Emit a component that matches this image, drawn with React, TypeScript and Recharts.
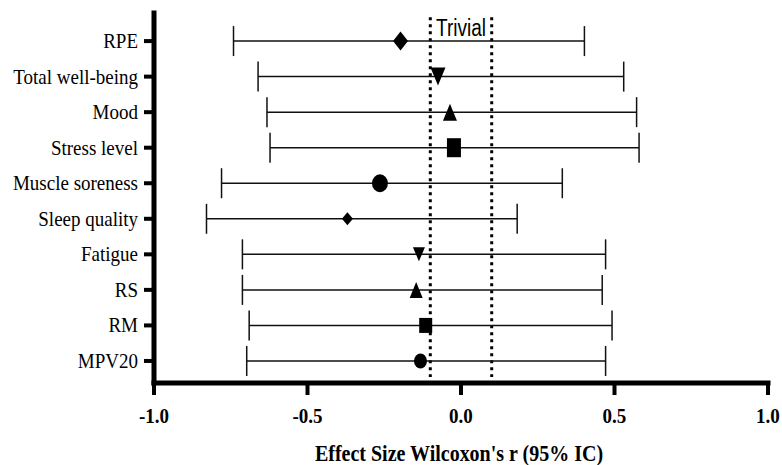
import { ComposedChart, Scatter, XAxis, YAxis, ErrorBar, ReferenceLine, ReferenceArea } from "recharts";

// forest plot: effect size r with 95% CI per variable
const categories = [
  "RPE",
  "Total well-being",
  "Mood",
  "Stress level",
  "Muscle soreness",
  "Sleep quality",
  "Fatigue",
  "RS",
  "RM",
  "MPV20",
];
const effect = [-0.197, -0.075, -0.036, -0.023, -0.264, -0.37, -0.137, -0.146, -0.115, -0.132];
const lower = [-0.741, -0.661, -0.632, -0.622, -0.78, -0.829, -0.712, -0.712, -0.69, -0.698];
const upper = [0.402, 0.53, 0.572, 0.58, 0.33, 0.183, 0.471, 0.46, 0.492, 0.471];
const xTicks = [-1, -0.5, 0, 0.5, 1];
const rowTicks = [1, 2, 3, 4, 5, 6, 7, 8, 9, 10];
const trivialBounds = [-0.1, 0.1];

const data = categories.map((name, i) => ({
  name,
  row: i + 1,
  r: effect[i],
  ci: [effect[i] - lower[i], upper[i] - effect[i]],
}));

// marker look per row (shape, width, height in px)
const MARKERS = [
  { kind: "diamond", w: 15, h: 19 },
  { kind: "triDown", w: 15, h: 18 },
  { kind: "triUp", w: 14, h: 17 },
  { kind: "square", w: 14, h: 19 },
  { kind: "circle", w: 16, h: 18 },
  { kind: "diamond", w: 11, h: 13 },
  { kind: "triDown", w: 12, h: 14 },
  { kind: "triUp", w: 13, h: 16 },
  { kind: "square", w: 13, h: 15 },
  { kind: "circle", w: 13, h: 15 },
];

const SERIF = '"Liberation Serif", "Times New Roman", serif';
const SANS = '"Liberation Sans", Arial, sans-serif';

function Marker(props: any) {
  const { cx, cy, payload } = props;
  if (cx == null || cy == null) return null;
  const m = MARKERS[payload.row - 1];
  const hw = m.w / 2;
  const hh = m.h / 2;
  const fill = "#000";
  switch (m.kind) {
    case "diamond":
      return <polygon points={`${cx},${cy - hh} ${cx + hw},${cy} ${cx},${cy + hh} ${cx - hw},${cy}`} fill={fill} />;
    case "triDown":
      return <polygon points={`${cx - hw},${cy - hh} ${cx + hw},${cy - hh} ${cx},${cy + hh}`} fill={fill} />;
    case "triUp":
      return <polygon points={`${cx - hw},${cy + hh} ${cx + hw},${cy + hh} ${cx},${cy - hh}`} fill={fill} />;
    case "square":
      return <rect x={cx - hw} y={cy - hh} width={m.w} height={m.h} fill={fill} />;
    default:
      return <ellipse cx={cx} cy={cy} rx={hw} ry={hh} fill={fill} />;
  }
}

function YTick({ x, y, payload }: any) {
  return (
    <text
      transform={`translate(${x},${y + 7}) scale(1,1.15)`}
      textAnchor="end"
      fontFamily={SERIF}
      fontSize={19}
      fill="#000"
    >
      {categories[payload.value - 1]}
    </text>
  );
}

function XTick({ x, y, payload }: any) {
  return (
    <text
      transform={`translate(${x},${y + 26}) scale(1,1.1)`}
      textAnchor="middle"
      fontFamily={SERIF}
      fontWeight="bold"
      fontSize={19}
      fill="#000"
    >
      {payload.value.toFixed(1)}
    </text>
  );
}

function AxisTitle(props: any) {
  const vb = props.viewBox;
  return (
    <text
      transform={`translate(${vb.x + vb.width / 2 - 2},461) scale(1,1.2)`}
      textAnchor="middle"
      fontFamily={SERIF}
      fontWeight="bold"
      fontSize={20}
      fill="#000"
    >
      Effect Size Wilcoxon's r (95% IC)
    </text>
  );
}

function TrivialLabel(props: any) {
  const vb = props.viewBox;
  return (
    <text
      transform={`translate(${vb.x + vb.width / 2},${vb.y + 23}) scale(1,1.3)`}
      textAnchor="middle"
      fontFamily={SANS}
      fontSize={19}
      fill="#000"
    >
      Trivial
    </text>
  );
}

export default function App() {
  return (
    <div style={{ position: "absolute", left: 0, top: 0, width: 782, height: 465, background: "#fff" }}>
      <ComposedChart width={782} height={465} data={data} margin={{ top: 13, right: 14, bottom: 0, left: 0 }}>
        <XAxis
          type="number"
          dataKey="r"
          domain={[-1, 1]}
          ticks={xTicks}
          allowDataOverflow
          height={82}
          tickSize={12}
          tickMargin={2}
          axisLine={{ stroke: "#000", strokeWidth: 5, strokeLinecap: "square" }}
          tickLine={{ stroke: "#000", strokeWidth: 4 }}
          tick={<XTick />}
          label={{ content: AxisTitle }}
        />
        <YAxis
          type="number"
          dataKey="row"
          domain={[0.21, 10.62]}
          reversed
          allowDataOverflow
          ticks={rowTicks}
          interval={0}
          width={154}
          tickSize={10}
          tickMargin={6}
          axisLine={{ stroke: "#000", strokeWidth: 5, strokeLinecap: "square" }}
          tickLine={{ stroke: "#000", strokeWidth: 4 }}
          tick={<YTick />}
        />
        <ReferenceArea
          x1={trivialBounds[0]}
          x2={trivialBounds[1]}
          fill="none"
          stroke="none"
          label={{ content: TrivialLabel }}
        />
        {trivialBounds.map((b) => (
          <ReferenceLine
            key={b}
            segment={[
              { x: b, y: 0.33 },
              { x: b, y: 10.45 },
            ]}
            stroke="#000"
            strokeWidth={3}
            strokeDasharray="3 4"
          />
        ))}
        <Scatter dataKey="r" shape={<Marker />} isAnimationActive={false}>
          <ErrorBar dataKey="ci" direction="x" width={15} stroke="#111" strokeWidth={1.5} />
        </Scatter>
      </ComposedChart>
    </div>
  );
}
